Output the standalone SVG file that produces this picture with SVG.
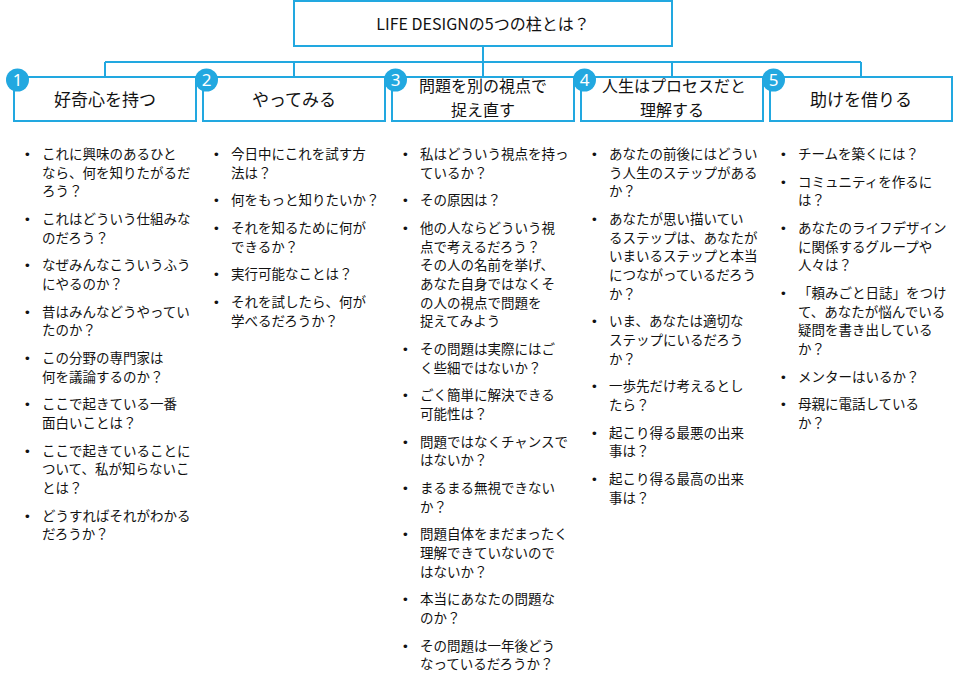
<svg xmlns="http://www.w3.org/2000/svg" width="953" height="689" viewBox="0 0 953 689">
<style>
.box{fill:#fff;stroke:#22A8E0;stroke-width:2}
.conn{fill:none;stroke:#22A8E0;stroke-width:2}
.badge{fill:#22A8E0}
.num{font-family:"Noto Sans","Liberation Sans",sans-serif;font-size:17px;fill:#fff;text-anchor:middle}
.title{font-family:"Noto Sans CJK JP",sans-serif;font-size:16px;fill:#111;text-anchor:middle}
.lbl{font-family:"Noto Sans CJK JP",sans-serif;font-size:17px;fill:#111;text-anchor:middle}
.lbl2{font-family:"Noto Sans CJK JP",sans-serif;font-size:16px;fill:#111;text-anchor:middle}
.it{font-family:"Noto Sans CJK JP",sans-serif;font-size:13.5px;fill:#111}
.bl{font-family:"Liberation Sans",sans-serif;font-size:13.5px;fill:#111}
</style>
<rect width="953" height="689" fill="#fff"/>
<g id="connectors">
<path class="conn" d="M483 46V62M105 62H861M105 62V77M294 62V77M483 62V77M672 62V77M861 62V77"/>
</g>
<g id="title">
<rect class="box" x="294" y="1" width="378" height="45"/>
<text class="title" x="483" y="30">LIFE DESIGNの5つの柱とは？</text>
</g>
<g id="node1">
<rect class="box" x="14" y="77" width="182" height="44"/>
<text class="lbl" x="105" y="106">好奇心を持つ</text>
<circle class="badge" cx="17.5" cy="80" r="11.5"/>
<text class="num" x="17.5" y="86">1</text>
<g class="items">
<text class="bl" x="25" y="159">•</text><text class="it"><tspan x="42" y="159">これに興味のあるひと</tspan><tspan x="42" y="177.7">なら、何を知りたがるだ</tspan><tspan x="42" y="196.4">ろう？</tspan></text>
<text class="bl" x="25" y="224">•</text><text class="it"><tspan x="42" y="224">これはどういう仕組みな</tspan><tspan x="42" y="242.7">のだろう？</tspan></text>
<text class="bl" x="25" y="270.3">•</text><text class="it"><tspan x="42" y="270.3">なぜみんなこういうふう</tspan><tspan x="42" y="289">にやるのか？</tspan></text>
<text class="bl" x="25" y="316.6">•</text><text class="it"><tspan x="42" y="316.6">昔はみんなどうやってい</tspan><tspan x="42" y="335.3">たのか？</tspan></text>
<text class="bl" x="25" y="362.9">•</text><text class="it"><tspan x="42" y="362.9">この分野の専門家は</tspan><tspan x="42" y="381.6">何を議論するのか？</tspan></text>
<text class="bl" x="25" y="409.2">•</text><text class="it"><tspan x="42" y="409.2">ここで起きている一番</tspan><tspan x="42" y="427.9">面白いことは？</tspan></text>
<text class="bl" x="25" y="455.5">•</text><text class="it"><tspan x="42" y="455.5">ここで起きていることに</tspan><tspan x="42" y="474.2">ついて、私が知らないこ</tspan><tspan x="42" y="492.9">とは？</tspan></text>
<text class="bl" x="25" y="520.5">•</text><text class="it"><tspan x="42" y="520.5">どうすればそれがわかる</tspan><tspan x="42" y="539.2">だろうか？</tspan></text>
</g>
</g>
<g id="node2">
<rect class="box" x="203" y="77" width="182" height="44"/>
<text class="lbl" x="294" y="106">やってみる</text>
<circle class="badge" cx="206.5" cy="80" r="11.5"/>
<text class="num" x="206.5" y="86">2</text>
<g class="items">
<text class="bl" x="214" y="159">•</text><text class="it"><tspan x="231" y="159">今日中にこれを試す方</tspan><tspan x="231" y="177.7">法は？</tspan></text>
<text class="bl" x="214" y="205.3">•</text><text class="it"><tspan x="231" y="205.3">何をもっと知りたいか？</tspan></text>
<text class="bl" x="214" y="232.9">•</text><text class="it"><tspan x="231" y="232.9">それを知るために何が</tspan><tspan x="231" y="251.6">できるか？</tspan></text>
<text class="bl" x="214" y="279.2">•</text><text class="it"><tspan x="231" y="279.2">実行可能なことは？</tspan></text>
<text class="bl" x="214" y="306.8">•</text><text class="it"><tspan x="231" y="306.8">それを試したら、何が</tspan><tspan x="231" y="325.5">学べるだろうか？</tspan></text>
</g>
</g>
<g id="node3">
<rect class="box" x="392" y="77" width="182" height="44"/>
<text class="lbl2" x="483" y="92">問題を別の視点で</text>
<text class="lbl2" x="483" y="116">捉え直す</text>
<circle class="badge" cx="395.5" cy="80" r="11.5"/>
<text class="num" x="395.5" y="86">3</text>
<g class="items">
<text class="bl" x="403" y="159">•</text><text class="it"><tspan x="420" y="159">私はどういう視点を持っ</tspan><tspan x="420" y="177.7">ているか？</tspan></text>
<text class="bl" x="403" y="205.3">•</text><text class="it"><tspan x="420" y="205.3">その原因は？</tspan></text>
<text class="bl" x="403" y="232.9">•</text><text class="it"><tspan x="420" y="232.9">他の人ならどういう視</tspan><tspan x="420" y="251.6">点で考えるだろう？</tspan><tspan x="420" y="270.3">その人の名前を挙げ、</tspan><tspan x="420" y="289">あなた自身ではなくそ</tspan><tspan x="420" y="307.7">の人の視点で問題を</tspan><tspan x="420" y="326.4">捉えてみよう</tspan></text>
<text class="bl" x="403" y="354">•</text><text class="it"><tspan x="420" y="354">その問題は実際にはご</tspan><tspan x="420" y="372.7">く些細ではないか？</tspan></text>
<text class="bl" x="403" y="400.3">•</text><text class="it"><tspan x="420" y="400.3">ごく簡単に解決できる</tspan><tspan x="420" y="419">可能性は？</tspan></text>
<text class="bl" x="403" y="446.6">•</text><text class="it"><tspan x="420" y="446.6">問題ではなくチャンスで</tspan><tspan x="420" y="465.3">はないか？</tspan></text>
<text class="bl" x="403" y="492.9">•</text><text class="it"><tspan x="420" y="492.9">まるまる無視できない</tspan><tspan x="420" y="511.6">か？</tspan></text>
<text class="bl" x="403" y="539.2">•</text><text class="it"><tspan x="420" y="539.2">問題自体をまだまったく</tspan><tspan x="420" y="557.9">理解できていないので</tspan><tspan x="420" y="576.6">はないか？</tspan></text>
<text class="bl" x="403" y="604.2">•</text><text class="it"><tspan x="420" y="604.2">本当にあなたの問題な</tspan><tspan x="420" y="622.9">のか？</tspan></text>
<text class="bl" x="403" y="650.5">•</text><text class="it"><tspan x="420" y="650.5">その問題は一年後どう</tspan><tspan x="420" y="669.2">なっているだろうか？</tspan></text>
</g>
</g>
<g id="node4">
<rect class="box" x="581" y="77" width="182" height="44"/>
<text class="lbl2" x="674" y="92">人生はプロセスだと</text>
<text class="lbl2" x="672" y="116">理解する</text>
<circle class="badge" cx="584.5" cy="80" r="11.5"/>
<text class="num" x="584.5" y="86">4</text>
<g class="items">
<text class="bl" x="592" y="159">•</text><text class="it"><tspan x="609" y="159">あなたの前後にはどうい</tspan><tspan x="609" y="177.7">う人生のステップがある</tspan><tspan x="609" y="196.4">か？</tspan></text>
<text class="bl" x="592" y="224">•</text><text class="it"><tspan x="609" y="224">あなたが思い描いてい</tspan><tspan x="609" y="242.7">るステップは、あなたが</tspan><tspan x="609" y="261.4">いまいるステップと本当</tspan><tspan x="609" y="280.1">につながっているだろう</tspan><tspan x="609" y="298.8">か？</tspan></text>
<text class="bl" x="592" y="326.4">•</text><text class="it"><tspan x="609" y="326.4">いま、あなたは適切な</tspan><tspan x="609" y="345.1">ステップにいるだろう</tspan><tspan x="609" y="363.8">か？</tspan></text>
<text class="bl" x="592" y="391.4">•</text><text class="it"><tspan x="609" y="391.4">一歩先だけ考えるとし</tspan><tspan x="609" y="410.1">たら？</tspan></text>
<text class="bl" x="592" y="437.7">•</text><text class="it"><tspan x="609" y="437.7">起こり得る最悪の出来</tspan><tspan x="609" y="456.4">事は？</tspan></text>
<text class="bl" x="592" y="484">•</text><text class="it"><tspan x="609" y="484">起こり得る最高の出来</tspan><tspan x="609" y="502.7">事は？</tspan></text>
</g>
</g>
<g id="node5">
<rect class="box" x="770" y="77" width="182" height="44"/>
<text class="lbl" x="861" y="106">助けを借りる</text>
<circle class="badge" cx="773.5" cy="80" r="11.5"/>
<text class="num" x="773.5" y="86">5</text>
<g class="items">
<text class="bl" x="781" y="159">•</text><text class="it"><tspan x="798" y="159">チームを築くには？</tspan></text>
<text class="bl" x="781" y="186.6">•</text><text class="it"><tspan x="798" y="186.6">コミュニティを作るに</tspan><tspan x="798" y="205.3">は？</tspan></text>
<text class="bl" x="781" y="232.9">•</text><text class="it"><tspan x="798" y="232.9">あなたのライフデザイン</tspan><tspan x="798" y="251.6">に関係するグループや</tspan><tspan x="798" y="270.3">人々は？</tspan></text>
<text class="bl" x="781" y="297.9">•</text><text class="it"><tspan x="798" y="297.9">「頼みごと日誌」をつけ</tspan><tspan x="798" y="316.6">て、あなたが悩んでいる</tspan><tspan x="798" y="335.3">疑問を書き出している</tspan><tspan x="798" y="354">か？</tspan></text>
<text class="bl" x="781" y="381.6">•</text><text class="it"><tspan x="798" y="381.6">メンターはいるか？</tspan></text>
<text class="bl" x="781" y="409.2">•</text><text class="it"><tspan x="798" y="409.2">母親に電話している</tspan><tspan x="798" y="427.9">か？</tspan></text>
</g>
</g>
</svg>
